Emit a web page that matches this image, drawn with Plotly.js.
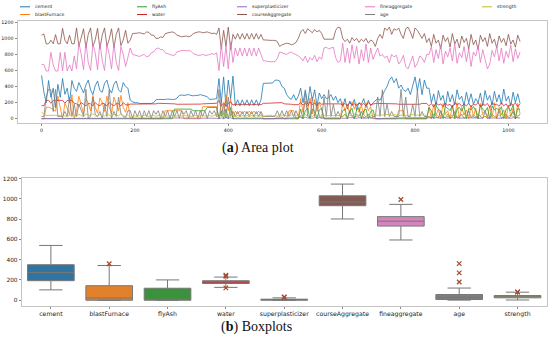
<!DOCTYPE html>
<html>
<head>
<meta charset="utf-8">
<script src="https://cdn.plot.ly/plotly-3.0.1.min.js"></script>
<style>html,body{margin:0;padding:0;background:#fff;}#chart{width:550px;height:344px;}</style>
</head>
<body>
<div id="chart"></div>
<script>
// ---- (a) line plot data: one sample every 5 rows ----
const sampleStep = 5;
const cement = [540,332,198,475,266,380,139,427,266,500,304,380,200,475,380,
340,450,380,320,420,480,360,300,410,470,350,330,440,480,370,320,430,470,360,330,450,400,380,
230,210,200,200,190,190,190,195,190,190,200,235,240,240,235,240,245,240,240,240,255,290,295,290,295,300,290,285,290,290,300,290,280,275,240,240,245,250,
500,200,520,160,480,250,530,
160,235,160,235,165,235,160,235,165,235,160,235,
440,440,440,440,445,480,480,470,400,380,300,260,240,300,230,280,
380,200,350,180,400,230,360,160,320,250,
300,250,260,300,230,280,200,250,
150,250,120,220,160,240,110,200,180,250,140,230,160,200,
220,250,230,300,350,400,480,520,450,500,380,420,360,340,380,300,420,520,350,500,300,480,380,
380,200,310,160,350,230,290,150,340,210,300,170,360,240,280,160,330,200,310,180,250,200,320,160,350,230,290,170,340,210,300,180,370,220,280,160,330,200,310,190];
const blastFurnace = [0,0,142,143,132,114,95,280,114,0,190,132,47,300,0,
100,280,150,60,250,190,100,290,140,70,260,200,90,280,150,60,270,190,100,290,140,80,200,
0,0,0,0,0,0,0,0,0,0,0,0,0,0,0,100,100,100,100,100,100,100,100,0,0,0,0,0,0,0,0,150,150,150,150,150,150,150,
0,200,50,300,100,250,0,
95,60,95,60,95,60,95,60,95,60,95,60,
0,0,0,0,0,0,20,20,20,0,0,100,100,100,0,0,
250,80,220,100,260,60,240,90,200,120,
0,0,0,0,0,0,0,0,
200,100,180,60,210,120,190,80,170,50,200,100,150,0,
0,0,0,0,0,0,0,0,0,0,100,100,100,0,0,0,0,0,0,0,0,0,0,
150,0,180,40,120,0,190,60,100,0,160,20,200,0,140,50,110,0,170,30,130,0,190,60,100,0,160,20,200,0,140,50,110,0,170,30,130,0,190,60];
const flyAsh = [0,0,0,0,0,0,0,0,0,0,0,0,0,0,0,
0,0,0,0,0,0,0,0,0,0,0,0,0,0,0,0,0,0,0,0,0,0,0,
0,0,0,0,0,0,0,0,0,0,0,0,0,0,0,0,0,0,0,120,120,120,120,120,120,120,120,100,100,100,100,100,100,140,140,140,140,140,
0,100,0,120,0,140,0,
0,0,0,0,0,0,0,0,0,0,0,0,
0,0,0,0,0,0,0,0,0,0,0,0,0,0,0,0,
120,0,100,130,0,120,90,0,110,130,
0,0,0,0,0,0,0,0,
100,120,0,90,130,0,110,140,0,100,120,0,90,110,
0,0,0,0,0,0,0,0,0,0,0,0,0,0,0,0,0,0,0,0,0,0,0,
140,100,0,160,120,90,0,150,130,100,170,0,120,140,95,160,0,130,110,150,100,0,170,120,90,140,0,160,110,130,100,150,0,120,140,95,170,0,130,110];
const water = [162,162,228,228,192,228,228,228,228,228,192,228,228,228,192,
185,160,200,180,160,190,185,160,200,175,160,195,185,160,200,180,160,190,185,160,200,175,170,
182,182,185,185,180,180,178,178,178,185,185,185,192,192,192,190,190,185,185,185,180,180,180,175,175,175,178,178,182,182,182,185,185,185,190,190,190,192,
228,160,200,150,190,210,170,
182,175,182,175,182,175,182,175,182,175,182,175,
192,192,192,192,192,192,200,200,200,185,185,180,180,175,175,175,
200,170,190,160,210,175,195,165,205,180,
185,185,185,185,185,185,185,185,
170,190,160,200,175,185,165,195,170,190,160,200,175,185,
190,190,190,192,192,192,192,185,185,185,180,180,180,180,175,175,175,175,180,180,190,190,190,
160,190,145,200,170,185,150,195,165,180,140,200,175,190,155,185,160,195,145,180,170,200,150,185,165,190,140,195,175,180,155,200,160,185,145,190,170,195,150,185];
const superplasticizer = [2.5,2.5,0,0,0,0,0,0,0,0,0,0,0,0,0,
0,0,0,0,0,0,0,0,0,0,0,0,0,0,0,0,0,0,0,0,0,0,0,
0,0,0,0,0,0,0,5,5,5,8,8,8,10,10,10,6,6,6,9,9,9,11,11,11,7,7,7,10,10,10,12,12,12,8,8,8,6,
0,10,0,15,5,12,0,
6,10,6,10,6,10,6,10,6,10,6,10,
0,0,0,0,0,0,5,5,5,8,8,8,10,10,10,6,
15,5,20,8,12,4,18,6,14,8,
10,10,10,10,10,10,10,10,
8,12,5,15,9,11,6,14,8,12,5,15,9,11,
0,0,0,6,6,6,8,8,8,10,10,10,12,12,12,9,9,9,7,7,7,10,10,
10,6,15,8,12,5,28,7,11,9,14,6,16,8,10,5,13,7,12,9,15,6,11,8,32,5,10,9,14,7,12,6,16,8,10,5,13,7,12,9];
const courseAggregate = [1040,1055,932,932,978,932,1047,932,932,1125,978,932,1040,932,932,
1130,900,1000,1120,880,1050,1130,900,980,1125,870,1040,1130,900,990,1120,880,1050,1130,910,980,1100,940,
980,1060,1060,1065,1070,1060,1055,1080,1075,1040,1040,1000,1000,1020,1010,1060,1070,1075,1080,1070,1040,1030,1020,1025,1030,1020,1030,1060,1075,1080,1080,1070,1075,1080,1070,1060,1065,1050,
1130,870,1100,900,1140,860,1050,
990,1060,990,1060,990,1060,990,1060,990,1060,990,1050,
980,980,975,975,975,975,960,900,920,930,940,935,920,930,950,1000,
1080,1110,1060,1120,1090,1070,1110,1080,1100,1060,
990,990,990,990,990,1100,1140,1130,
1000,960,990,940,1010,970,1000,950,990,960,1000,940,980,960,
900,1000,1050,1000,1130,1100,1140,1050,1120,1100,1130,1050,1000,1120,1140,1080,1000,1130,1100,1050,1000,1060,950,
1000,900,1050,940,980,870,1040,960,1010,890,1060,930,990,880,1030,950,1000,870,1050,920,980,860,1040,960,1010,900,1060,940,990,880,1030,950,1000,910,1050,930,980,890,1040,960];
const fineaggregate = [676,676,594,594,826,670,594,594,825,594,826,594,670,594,780,
620,940,800,610,950,700,600,930,820,610,950,720,600,930,800,620,940,700,600,900,800,650,780,
880,800,790,780,775,790,800,770,780,820,830,870,880,860,860,820,810,800,790,790,830,840,850,850,845,850,840,810,795,790,790,800,790,790,800,810,800,820,
600,930,650,900,620,950,700,
880,780,880,780,880,780,880,780,880,780,880,800,
720,720,710,710,710,710,750,830,820,810,800,820,830,810,800,780,
760,720,780,700,760,730,790,710,770,740,
880,890,870,880,890,760,700,720,
940,700,880,690,920,750,900,680,860,720,930,700,880,740,
800,880,780,800,760,780,700,800,770,790,680,720,790,650,620,700,780,640,690,780,760,700,800,
800,900,700,860,750,920,680,840,770,880,720,940,690,820,760,900,710,870,650,830,780,910,700,860,740,620,680,850,770,900,720,880,690,840,760,920,710,870,750,830];
const age = [28,28,270,365,360,90,365,28,28,28,90,28,270,28,180,
28,180,90,28,365,7,28,270,56,28,90,3,180,28,365,7,90,28,270,56,28,14,100,
100,3,100,28,100,7,100,28,100,3,100,56,100,7,100,28,100,3,100,28,100,7,100,56,100,3,100,28,100,7,100,28,100,3,100,56,100,28,
365,28,180,7,270,28,90,
28,90,28,90,28,90,28,90,28,90,28,90,
28,28,28,28,28,28,100,28,100,28,100,28,100,28,100,28,
28,3,360,28,7,270,28,180,28,3,
270,28,360,28,180,28,90,28,
28,56,3,100,28,7,56,28,90,3,28,56,7,28,
28,270,28,360,28,180,28,90,28,28,28,365,28,270,28,28,180,28,360,28,90,28,28,
28,3,56,28,7,100,28,14,56,3,28,90,7,28,56,3,28,100,14,28,7,56,28,3,90,28,7,56,28,14,100,3,28,56,7,28,90,3,28,56];
const strength = [80,61,40,41,44,47,43,36,45,39,38,28,43,42,47,
30,55,40,25,60,45,35,65,38,28,55,42,33,62,40,26,58,44,36,64,38,30,50,
20,30,35,25,40,30,45,35,28,38,42,30,35,45,25,40,33,38,44,28,36,42,30,40,35,45,28,38,42,30,35,45,32,40,38,30,44,36,
15,60,25,70,20,50,40,
25,40,25,40,25,40,25,40,25,40,25,40,
30,35,40,45,35,40,30,50,45,38,42,36,48,40,35,44,
40,20,55,30,45,25,60,35,40,28,
35,40,38,42,36,44,40,38,
30,55,20,45,35,60,25,50,30,55,20,45,35,50,
40,45,38,50,42,55,48,40,52,46,38,44,50,42,36,48,54,40,46,38,50,44,40,
20,45,30,55,25,40,35,60,22,48,32,52,28,42,38,58,24,46,30,50,26,44,36,56,20,48,34,54,28,40,38,60,22,46,32,52,26,42,36,50];

const seriesNames = ['cement','blastFurnace','flyAsh','water','superplasticizer','courseAggregate','fineaggregate','age','strength'];
const seriesData = [cement, blastFurnace, flyAsh, water, superplasticizer, courseAggregate, fineaggregate, age, strength];
const lineColors = ['#1f77b4','#ff7f0e','#2ca02c','#d62728','#9467bd','#8c564b','#e377c2','#7f7f7f','#bcbd22'];
const xTicksA = [0,200,400,600,800,1000];
const yTicks = [0,200,400,600,800,1000,1200];

// ---- (b) boxplot statistics ----
const boxNames = ['cement','blastFurnace','flyAsh','water','superplasticizer','courseAggregate','fineaggregate','age','strength'];
const boxQ1 = [192.4, 0, 0, 164.9, 0, 932, 731, 7, 23.7];
const boxMedian = [272.9, 22, 0, 185, 6.4, 968, 779.5, 28, 34.4];
const boxQ3 = [350, 143, 118.3, 192, 10.2, 1029.4, 824, 56, 46.1];
const boxLow = [102, 0, 0, 126.6, 0, 801, 594, 1, 2.3];
const boxHigh = [540, 342.1, 200.1, 228, 23.4, 1145, 945, 120, 79.3];
const boxColors = ['#3274a1','#e1812c','#3a923a','#c03d3e','#9372b2','#845b53','#d684bd','#7f7f7f','#a9aa35'];
const flierX = ['blastFurnace','water','water','water','superplasticizer','superplasticizer','fineaggregate','age','age','age','strength','strength'];
const flierY = [359.4, 121.8, 236.7, 246.9, 28.2, 32.2, 992.6, 180, 270, 360, 80.2, 82.6];

const W = 550, H = 344;
const px = v => v / W;
const py = v => 1 - v / H;

const traces = [];
seriesData.forEach((arr, k) => {
  traces.push({
    type: 'scatter', mode: 'lines',
    x: arr.map((_, i) => i * sampleStep), y: arr,
    name: seriesNames[k], xaxis: 'x', yaxis: 'y',
    line: {color: lineColors[k], width: 0.8}, showlegend: false, hoverinfo: 'skip'
  });
});
boxNames.forEach((nm, k) => {
  traces.push({
    type: 'box', x: [nm], q1: [boxQ1[k]], median: [boxMedian[k]], q3: [boxQ3[k]],
    lowerfence: [boxLow[k]], upperfence: [boxHigh[k]],
    xaxis: 'x2', yaxis: 'y2', boxpoints: false, width: 0.8, whiskerwidth: 0.5,
    fillcolor: boxColors[k], line: {color: '#777777', width: 1}, showlegend: false
  });
});
traces.push({
  type: 'scatter', mode: 'markers', x: flierX, y: flierY, xaxis: 'x2', yaxis: 'y2',
  marker: {symbol: 'x-thin', size: 4.5, line: {width: 1.2, color: '#a4472f'}}, showlegend: false
});

// manual legend (matplotlib-style, 5 columns, column-major)
const legColX = [20, 137, 237, 365, 482];
const legRowY = [6.8, 14.5];
const shapes = [], annotations = [];
seriesNames.forEach((nm, k) => {
  const c = Math.floor(k / 2), r = k % 2;
  const x0 = legColX[c], y0 = legRowY[r];
  shapes.push({type: 'line', xref: 'paper', yref: 'paper', x0: px(x0), x1: px(x0 + 10), y0: py(y0), y1: py(y0),
    line: {color: lineColors[k], width: 1}});
  annotations.push({xref: 'paper', yref: 'paper', x: px(x0 + 13), y: py(y0), xanchor: 'left', yanchor: 'middle',
    text: nm, showarrow: false, font: {family: 'DejaVu Sans', size: 4.6, color: '#222'}});
});
annotations.push({xref: 'paper', yref: 'paper', x: px(258), y: py(148.3), xanchor: 'center', yanchor: 'middle',
  text: '(<b>a</b>) Area plot', showarrow: false, font: {family: 'Liberation Serif', size: 14, color: '#111'}});
annotations.push({xref: 'paper', yref: 'paper', x: px(256), y: py(326.5), xanchor: 'center', yanchor: 'middle',
  text: '(<b>b</b>) Boxplots', showarrow: false, font: {family: 'Liberation Serif', size: 14, color: '#111'}});

const axCommon = {showline: true, mirror: true, linecolor: '#c4c4c4', linewidth: 1, showgrid: false, zeroline: false,
  ticks: 'outside', ticklen: 2, tickcolor: '#888', automargin: false};

const layout = {
  width: W, height: H, margin: {l: 0, r: 0, t: 0, b: 0},
  paper_bgcolor: '#fff', plot_bgcolor: '#fff', showlegend: false,
  font: {family: 'DejaVu Sans', color: '#222'},
  xaxis: Object.assign({}, axCommon, {domain: [px(17.5), px(546.7)], range: [-51.5, 1082], tickvals: xTicksA,
    tickfont: {size: 4.8}, anchor: 'y'}),
  yaxis: Object.assign({}, axCommon, {domain: [py(123.3), py(20.7)], range: [-57, 1220], tickvals: yTicks,
    tickfont: {size: 4.8}, anchor: 'x'}),
  xaxis2: Object.assign({}, axCommon, {domain: [px(21.7), px(546.7)], type: 'category', categoryorder: 'array',
    categoryarray: boxNames, range: [-0.5, 8.5], tickfont: {size: 6.2}, anchor: 'y2'}),
  yaxis2: Object.assign({}, axCommon, {domain: [py(306), py(178.3)], range: [-57, 1202], tickvals: yTicks,
    tickfont: {size: 5.8}, anchor: 'x2'}),
  shapes: shapes, annotations: annotations
};

Plotly.newPlot('chart', traces, layout, {staticPlot: true, displayModeBar: false});
</script>
</body>
</html>
